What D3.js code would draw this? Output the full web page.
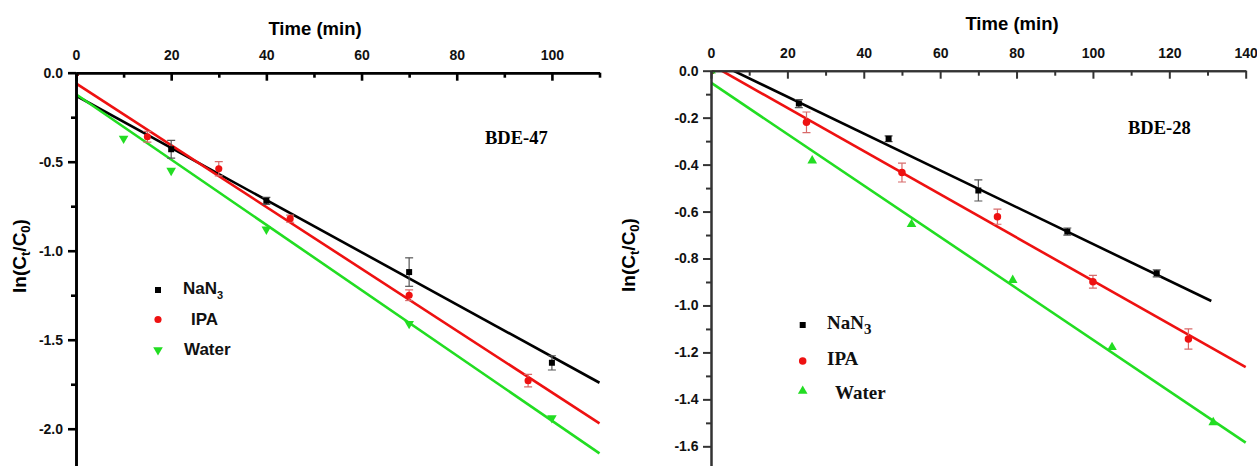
<!DOCTYPE html>
<html><head><meta charset="utf-8">
<script src="https://cdn.jsdelivr.net/npm/d3@7/dist/d3.min.js"></script>
<style>body{margin:0;background:#fff}svg{display:block}</style>
</head><body>
<svg id="c" width="1257" height="466"></svg>
<script>
// ---------- BDE-47 (left panel) ----------
const t47_nan3 = [0, 20, 40, 70, 100];
const v47_nan3 = [0, -0.43, -0.72, -1.12, -1.63];
const e47_nan3 = [0, 0.05, 0.02, 0.08, 0.04];
const t47_ipa = [0, 15, 30, 45, 70, 95];
const v47_ipa = [0, -0.36, -0.54, -0.82, -1.25, -1.73];
const e47_ipa = [0, 0.03, 0.04, 0.02, 0.03, 0.035];
const t47_water = [0, 10, 20, 40, 70, 100];
const v47_water = [0, -0.37, -0.55, -0.88, -1.41, -1.94];
// linear fits: [intercept, slope, tEnd]
const fit47_nan3 = [-0.129, -0.01466, 110];
const fit47_ipa = [-0.06, -0.01736, 110];
const fit47_water = [-0.121, -0.01834, 110];
const xTicks47 = [0, 20, 40, 60, 80, 100];
const xMinor47 = [10, 30, 50, 70, 90, 110];
const yTicks47 = [0, -0.5, -1.0, -1.5, -2.0];
const yMinor47 = [-0.25, -0.75, -1.25, -1.75];

// ---------- BDE-28 (right panel) ----------
const t28_nan3 = [0, 23, 46.5, 70, 93.3, 116.7];
const v28_nan3 = [0, -0.14, -0.29, -0.51, -0.685, -0.863];
const e28_nan3 = [0, 0.017, 0.012, 0.045, 0.015, 0.015];
const t28_ipa = [0, 25, 50, 75, 100, 125];
const v28_ipa = [0, -0.22, -0.434, -0.622, -0.899, -1.143];
const e28_ipa = [0, 0.044, 0.04, 0.032, 0.027, 0.043];
const t28_water = [0, 26.5, 52.5, 79, 105, 131.5];
const v28_water = [0, -0.383, -0.654, -0.892, -1.178, -1.498];
const fit28_nan3 = [0.0459, -0.00784, 131];
const fit28_ipa = [0.0258, -0.009206, 140];
const fit28_water = [-0.051, -0.01095, 140];
const xTicks28 = [0, 20, 40, 60, 80, 100, 120, 140];
const xMinor28 = [10, 30, 50, 70, 90, 110, 130];
const yTicks28 = [0, -0.2, -0.4, -0.6, -0.8, -1.0, -1.2, -1.4, -1.6];
const yMinor28 = [-0.1, -0.3, -0.5, -0.7, -0.9, -1.1, -1.3, -1.5];

const seriesNames = ["NaN3", "IPA", "Water"];
const COL = {black: "#000", red: "#ee1111", green: "#22dd22"};

const svg = d3.select("#c");

function zip(t, v, e) { return t.map((d, i) => ({t: d, v: v[i], e: e ? e[i] : 0})); }

function drawPanel(cfg) {
  const g = svg.append("g");
  const x = d3.scaleLinear().domain(cfg.xDom).range(cfg.xRange);
  const y = d3.scaleLinear().domain(cfg.yDom).range(cfg.yRange);
  const clipId = "clip" + cfg.id;
  g.append("clipPath").attr("id", clipId).append("rect")
    .attr("x", cfg.xRange[0]).attr("y", cfg.yRange[0])
    .attr("width", cfg.xRange[1] - cfg.xRange[0] + 2).attr("height", cfg.yRange[1] - cfg.yRange[0]);

  const plot = g.append("g").attr("clip-path", `url(#${clipId})`);
  const line = d3.line().x(d => x(d[0])).y(d => y(d[1]));
  cfg.fits.forEach(f => {
    const pts = [[0, f.fit[0]], [f.fit[2], f.fit[0] + f.fit[1] * f.fit[2]]];
    plot.append("path").attr("d", line(pts)).attr("fill", "none")
      .attr("stroke", f.color).attr("stroke-width", 2.6);
  });

  // error bars
  cfg.series.forEach(s => {
    if (!s.err) return;
    s.data.forEach(d => {
      if (!d.e) return;
      const xx = x(d.t);
      plot.append("line").attr("x1", xx).attr("x2", xx).attr("y1", y(d.v + d.e)).attr("y2", y(d.v - d.e))
        .attr("stroke", s.errColor).attr("stroke-width", 1.2);
      [d.v + d.e, d.v - d.e].forEach(v => plot.append("line").attr("x1", xx - 4).attr("x2", xx + 4)
        .attr("y1", y(v)).attr("y2", y(v)).attr("stroke", s.errColor).attr("stroke-width", 1.2));
    });
  });
  // markers
  cfg.series.forEach(s => {
    plot.selectAll(null).data(s.data).enter().append("path")
      .attr("d", d3.symbol().type(s.sym).size(s.size))
      .attr("transform", d => `translate(${x(d.t)},${y(d.v) + (s.dy || 0)}) rotate(${s.rot || 0})`)
      .attr("fill", s.color);
  });

  // axes
  const top = cfg.yRange[0], left = cfg.xRange[0];
  const ax = g.append("g").attr("transform", `translate(0,${top})`)
    .call(d3.axisTop(x).tickValues(cfg.xTicks).tickSizeInner(-8).tickSizeOuter(0).tickPadding(12.5).tickFormat(d3.format("d")));
  const axm = g.append("g").attr("transform", `translate(0,${top})`)
    .call(d3.axisTop(x).tickValues(cfg.xMinor).tickSizeInner(-5).tickSizeOuter(0).tickFormat(""));
  const ay = g.append("g").attr("transform", `translate(${left},0)`)
    .call(d3.axisLeft(y).tickValues(cfg.yTicks).tickSizeInner(8).tickSizeOuter(0).tickPadding(cfg.yPad).tickFormat(d => d.toFixed(1)));
  const aym = g.append("g").attr("transform", `translate(${left},0)`)
    .call(d3.axisLeft(y).tickValues(cfg.yMinor).tickSizeInner(5).tickSizeOuter(0).tickFormat(""));
  [ax, axm, ay, aym].forEach(a => {
    a.select(".domain").attr("stroke", cfg.axisColor).attr("stroke-width", cfg.axisW);
    a.selectAll(".tick line").attr("stroke", cfg.axisColor).attr("stroke-width", cfg.axisW);
    a.selectAll("text").attr("font-family", "Liberation Sans, Arial, sans-serif")
      .attr("font-weight", "bold").attr("font-size", 14).attr("fill", "#111");
  });

  // x title
  g.append("text").attr("x", cfg.xTitle[0]).attr("y", cfg.xTitle[1]).attr("text-anchor", "middle")
    .attr("font-family", "Liberation Sans, Arial, sans-serif").attr("font-weight", "bold").attr("font-size", 18.5)
    .text("Time (min)");
  // y title
  const yt = g.append("text").attr("transform", `translate(${cfg.yTitle[0]},${cfg.yTitle[1]}) rotate(-90)`)
    .attr("text-anchor", "middle").attr("font-family", "Liberation Sans, Arial, sans-serif")
    .attr("font-weight", "bold").attr("font-size", 19);
  yt.append("tspan").text("ln(C");
  yt.append("tspan").attr("font-size", 13).attr("dy", 4).text("t");
  yt.append("tspan").attr("dy", -4).text("/C");
  yt.append("tspan").attr("font-size", 13).attr("dy", 4).text("0");
  yt.append("tspan").attr("dy", -4).text(")");

  // panel label
  g.append("text").attr("x", cfg.label[0]).attr("y", cfg.label[1])
    .attr("font-family", "Liberation Serif, Times New Roman, serif").attr("font-weight", "bold").attr("font-size", 18.5)
    .text(cfg.labelText);

  // legend
  cfg.series.forEach((s, i) => {
    const L = cfg.legend[i];
    g.append("path").attr("d", d3.symbol().type(s.sym).size(s.size))
      .attr("transform", `translate(${L.mx},${L.my}) rotate(${s.rot || 0})`).attr("fill", s.color);
    const tx = g.append("text").attr("x", L.tx).attr("y", L.ty)
      .attr("font-family", cfg.legendFont).attr("font-weight", "bold").attr("font-size", cfg.legendSize).attr("fill", "#111");
    const name = seriesNames[i];
    if (name === "NaN3") {
      tx.append("tspan").text("NaN");
      tx.append("tspan").attr("font-size", cfg.subSize).attr("dy", cfg.subDy).text("3");
    } else tx.text(name);
  });
}

drawPanel({
  id: 47, xDom: [0, 110], xRange: [76, 599.5], yDom: [0, -2.22], yRange: [72.7, 467.9],
  xTicks: xTicks47, xMinor: xMinor47, yTicks: yTicks47, yMinor: yMinor47, yPad: 5,
  axisColor: "#000", axisW: 2.6,
  xTitle: [315, 35], yTitle: [26, 256], label: [485, 144], labelText: "BDE-47",
  legendFont: "Liberation Sans, Arial, sans-serif", legendSize: 17, subSize: 11, subDy: 5,
  fits: [{fit: fit47_nan3, color: COL.black}, {fit: fit47_ipa, color: COL.red}, {fit: fit47_water, color: COL.green}],
  series: [
    {data: zip(t47_nan3, v47_nan3, e47_nan3), err: true, errColor: "#555", color: COL.black, sym: d3.symbolSquare, size: 36},
    {data: zip(t47_ipa, v47_ipa, e47_ipa), err: true, errColor: "#d86a6a", color: COL.red, sym: d3.symbolCircle, size: 40},
    {data: zip(t47_water, v47_water), err: false, color: COL.green, sym: d3.symbolTriangle, size: 40, rot: 180}
  ],
  legend: [{mx: 158, my: 290, tx: 183, ty: 294}, {mx: 158, my: 319.5, tx: 191, ty: 325}, {mx: 158, my: 350, tx: 184, ty: 355}]
});

drawPanel({
  id: 28, xDom: [0, 140], xRange: [711, 1245.7], yDom: [0, -1.7], yRange: [70.7, 469.8],
  xTicks: xTicks28, xMinor: xMinor28, yTicks: yTicks28, yMinor: yMinor28, yPad: 4.5,
  axisColor: "#333", axisW: 2,
  xTitle: [1012, 30], yTitle: [635, 255], label: [1128, 134], labelText: "BDE-28",
  legendFont: "Liberation Serif, Times New Roman, serif", legendSize: 19, subSize: 15, subDy: 5,
  fits: [{fit: fit28_nan3, color: COL.black}, {fit: fit28_ipa, color: COL.red}, {fit: fit28_water, color: COL.green}],
  series: [
    {data: zip(t28_nan3, v28_nan3, e28_nan3), err: true, errColor: "#555", color: COL.black, sym: d3.symbolSquare, size: 36},
    {data: zip(t28_ipa, v28_ipa, e28_ipa), err: true, errColor: "#d86a6a", color: COL.red, sym: d3.symbolCircle, size: 44},
    {data: zip(t28_water, v28_water), err: false, color: COL.green, sym: d3.symbolTriangle, size: 40}
  ],
  legend: [{mx: 802.7, my: 325, tx: 827, ty: 329}, {mx: 802.7, my: 361, tx: 827, ty: 365}, {mx: 802.7, my: 391, tx: 835, ty: 399}]
});
</script>
</body></html>
